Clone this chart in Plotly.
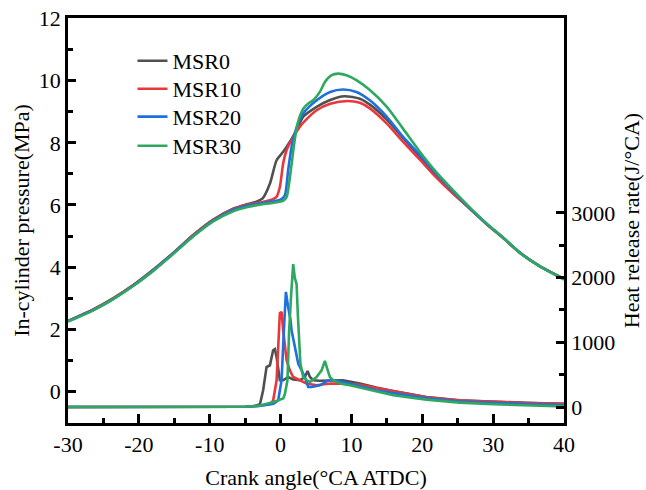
import plotly.graph_objects as go

# ---------------- data ----------------
series_names = ["MSR0", "MSR10", "MSR20", "MSR30"]
series_colors = ["#505050", "#E8383D", "#1E6FE0", "#2EA860"]

# In-cylinder pressure (MPa)
p0_x = [-30, -26.5, -23.6, -20.8, -18, -15.2, -12.3, -9.5, -6.7, -4.8, -3.5, -2.5, -1.5, -0.56, 0.37, 1.3, 2.26, 3.2, 5.1, 7.0, 9.0, 11.2, 12.6, 15.0, 17.3, 19.7, 22.0, 24.4, 27.0, 29.1, 31.5, 33.8, 36.5, 40]
p0_y = [2.27, 2.63, 3.0, 3.42, 3.91, 4.45, 5.04, 5.53, 5.88, 6.02, 6.1, 6.22, 6.69, 7.44, 7.71, 8.03, 8.41, 8.84, 9.16, 9.38, 9.5, 9.42, 9.23, 8.75, 8.15, 7.55, 6.95, 6.38, 5.82, 5.38, 4.92, 4.46, 4.04, 3.62]

p10_x = [-30, -26.5, -23.6, -20.8, -18, -15.2, -12.3, -9.5, -6.7, -4.8, -2.9, -1.5, -0.6, -0.1, 0.37, 0.85, 1.8, 2.7, 3.4, 5.1, 7.0, 9.5, 11.2, 12.6, 15.0, 17.3, 19.7, 22.0, 24.4, 27.0, 29.1, 31.5, 33.8, 36.5, 40]
p10_y = [2.26, 2.62, 2.99, 3.41, 3.9, 4.44, 5.03, 5.52, 5.86, 6.0, 6.08, 6.15, 6.25, 6.58, 7.34, 7.76, 8.19, 8.51, 8.7, 9.05, 9.26, 9.35, 9.29, 9.11, 8.62, 8.03, 7.45, 6.88, 6.35, 5.82, 5.38, 4.92, 4.46, 4.04, 3.62]

p20_x = [-30, -26.5, -23.6, -20.8, -18, -15.2, -12.3, -9.5, -6.7, -4.8, -2.9, -1.0, 0.0, 0.6, 1.07, 1.55, 2.0, 2.5, 3.2, 5.1, 7.0, 8.8, 10.7, 12.6, 15.0, 17.3, 19.7, 22.0, 24.4, 27.0, 29.1, 31.5, 33.8, 36.5, 40]
p20_y = [2.26, 2.61, 2.98, 3.4, 3.89, 4.43, 5.01, 5.5, 5.84, 5.97, 6.05, 6.12, 6.17, 6.31, 7.12, 7.87, 8.3, 8.65, 8.95, 9.37, 9.64, 9.72, 9.64, 9.37, 8.84, 8.19, 7.6, 7.0, 6.42, 5.83, 5.39, 4.93, 4.46, 4.04, 3.61]

p30_x = [-30, -26.5, -23.6, -20.8, -18, -15.2, -12.3, -9.5, -6.7, -4.8, -2.9, -1.0, 0.4, 0.85, 1.2, 1.55, 2.0, 2.5, 3.2, 4.0, 4.6, 5.55, 6.26, 7.2, 8.1, 9.3, 10.7, 12.6, 15.0, 17.3, 19.7, 22.0, 24.4, 27.0, 29.1, 31.5, 33.8, 36.5, 40]
p30_y = [2.25, 2.6, 2.97, 3.39, 3.87, 4.41, 4.99, 5.47, 5.8, 5.93, 6.01, 6.07, 6.14, 6.25, 6.7, 7.3, 8.1, 8.7, 9.1, 9.28, 9.37, 9.64, 9.96, 10.18, 10.23, 10.18, 10.02, 9.7, 9.16, 8.45, 7.7, 7.05, 6.46, 5.85, 5.4, 4.93, 4.45, 4.04, 3.6]

# Heat release rate (J/°CA)
h0_x = [-30, -10, -5, -4, -3.5, -2.9, -2.46, -1.98, -1.5, -1.05, -0.8, -0.55, -0.34, -0.1, 0.37, 1.07, 1.78, 2.73, 3.43, 3.81, 4.14, 4.6, 5.5, 7.0, 8.8, 11.2, 13.5, 15.9, 20.6, 25.3, 30, 34.7, 40]
h0_y = [0, 0, 5, 12, 20, 45, 258, 618, 645, 877, 895, 760, 618, 413, 413, 464, 424, 413, 464, 557, 464, 413, 405, 413, 413, 362, 300, 248, 155, 104, 80, 65, 50]

h10_x = [-30, -10, -5, -3, -1.5, -1.05, -0.56, -0.1, 0.14, 0.37, 0.61, 0.85, 1.31, 1.78, 2.73, 3.67, 5.08, 7.0, 8.8, 11.2, 13.5, 15.9, 20.6, 25.3, 30, 34.7, 40]
h10_y = [0, 0, 5, 20, 45, 100, 413, 1449, 1469, 1186, 928, 722, 567, 464, 413, 362, 336, 362, 362, 345, 295, 248, 150, 100, 78, 63, 48]

h20_x = [-30, -10, -5, -3, -1, -0.34, 0.14, 0.47, 0.75, 1.07, 1.41, 1.55, 2.02, 2.49, 2.97, 3.43, 3.9, 4.38, 5.55, 6.72, 7.43, 8.8, 11.2, 13.5, 15.9, 20.6, 25.3, 30, 34.7, 40]
h20_y = [0, 0, 5, 18, 50, 100, 413, 1186, 1778, 1546, 1340, 1186, 928, 671, 567, 464, 309, 309, 336, 413, 413, 387, 320, 260, 215, 135, 86, 60, 45, 30]

h30_x = [-30, -10, -5, -3, -1, 0.37, 0.61, 0.97, 1.21, 1.5, 1.78, 2.02, 2.26, 2.45, 2.63, 2.8, 3.19, 3.67, 4.14, 5.08, 5.79, 6.26, 6.58, 6.96, 7.43, 8.38, 9.79, 11.7, 13.8, 15.9, 20.6, 25.3, 30, 34.7, 40]
h30_y = [0, 0, 5, 20, 77, 130, 200, 413, 1186, 1750, 2207, 1990, 1900, 1400, 1000, 671, 464, 413, 387, 464, 567, 711, 594, 464, 413, 362, 336, 285, 230, 181, 114, 68, 42, 26, 10]

x_tick_vals = [-30, -20, -10, 0, 10, 20, 30, 40]
x_tick_text = ["-30", "-20", "-10", "0", "10", "20", "30", "40"]
y_tick_vals = [0, 2, 4, 6, 8, 10, 12]
y2_tick_vals = [0, 1000, 2000, 3000]
y2_minor_vals = [500, 1500, 2500]

pressure = [(p0_x, p0_y), (p10_x, p10_y), (p20_x, p20_y), (p30_x, p30_y)]
hrr = [(h0_x, h0_y), (h10_x, h10_y), (h20_x, h20_y), (h30_x, h30_y)]

# ---------------- figure ----------------
FONT = "Liberation Serif"
fig = go.Figure()

legend_ids = ["legend", "legend2", "legend3", "legend4"]
legend_y = [0.894, 0.825, 0.756, 0.684]

for name, col, lid, (px, py) in zip(series_names, series_colors, legend_ids, pressure):
    fig.add_trace(go.Scatter(x=px, y=py, mode="lines", name=name, legend=lid,
                             line=dict(color=col, width=2.6, shape="spline", smoothing=0.7),
                             yaxis="y"))
for name, col, (hx, hy) in zip(series_names, series_colors, hrr):
    fig.add_trace(go.Scatter(x=hx, y=hy, mode="lines", name=name, showlegend=False,
                             line=dict(color=col, width=2.6), yaxis="y2"))

axis_common = dict(showgrid=False, zeroline=False, linecolor="black", linewidth=2.5,
                   ticks="inside", tickcolor="black", tickwidth=2.5, automargin=False,
                   tickfont=dict(family=FONT, size=22, color="black"))

legend_style = dict(x=0.13, xanchor="left", yanchor="middle", bgcolor="rgba(0,0,0,0)",
                    font=dict(family=FONT, size=22, color="black"), itemwidth=30)

fig.update_layout(
    width=646, height=490,
    margin=dict(l=68, r=82, t=18, b=67, autoexpand=False),
    paper_bgcolor="white", plot_bgcolor="white",
    font=dict(family=FONT, size=22, color="black"),
    showlegend=True,
    legend=dict(y=legend_y[0], **legend_style),
    legend2=dict(y=legend_y[1], **legend_style),
    legend3=dict(y=legend_y[2], **legend_style),
    legend4=dict(y=legend_y[3], **legend_style),
    xaxis=dict(range=[-30, 40], tickvals=x_tick_vals, ticktext=x_tick_text, ticklen=9,
               minor=dict(dtick=5, ticklen=5, tickwidth=2.5, tickcolor="black", ticks="inside"),
               mirror=True,
               title=dict(text="Crank angle(°CA ATDC)", font=dict(family=FONT, size=22), standoff=18),
               **axis_common),
    yaxis=dict(range=[-1.02, 12.02], tickvals=y_tick_vals, ticklen=8,
               minor=dict(dtick=1, ticklen=5, tickwidth=2.5, tickcolor="black", ticks="inside"),
               title=dict(text="In-cylinder pressure(MPa)", font=dict(family=FONT, size=22), standoff=4),
               **axis_common),
    yaxis2=dict(range=[-247, 6010], overlaying="y", side="right", tickvals=y2_tick_vals, ticklen=8,
                minor=dict(tickvals=y2_minor_vals, ticklen=5, tickwidth=2.5, tickcolor="black", ticks="inside"),
                title=dict(text="Heat release rate(J/°CA)", font=dict(family=FONT, size=22), standoff=10),
                **axis_common),
)

fig.write_html("out.html")
